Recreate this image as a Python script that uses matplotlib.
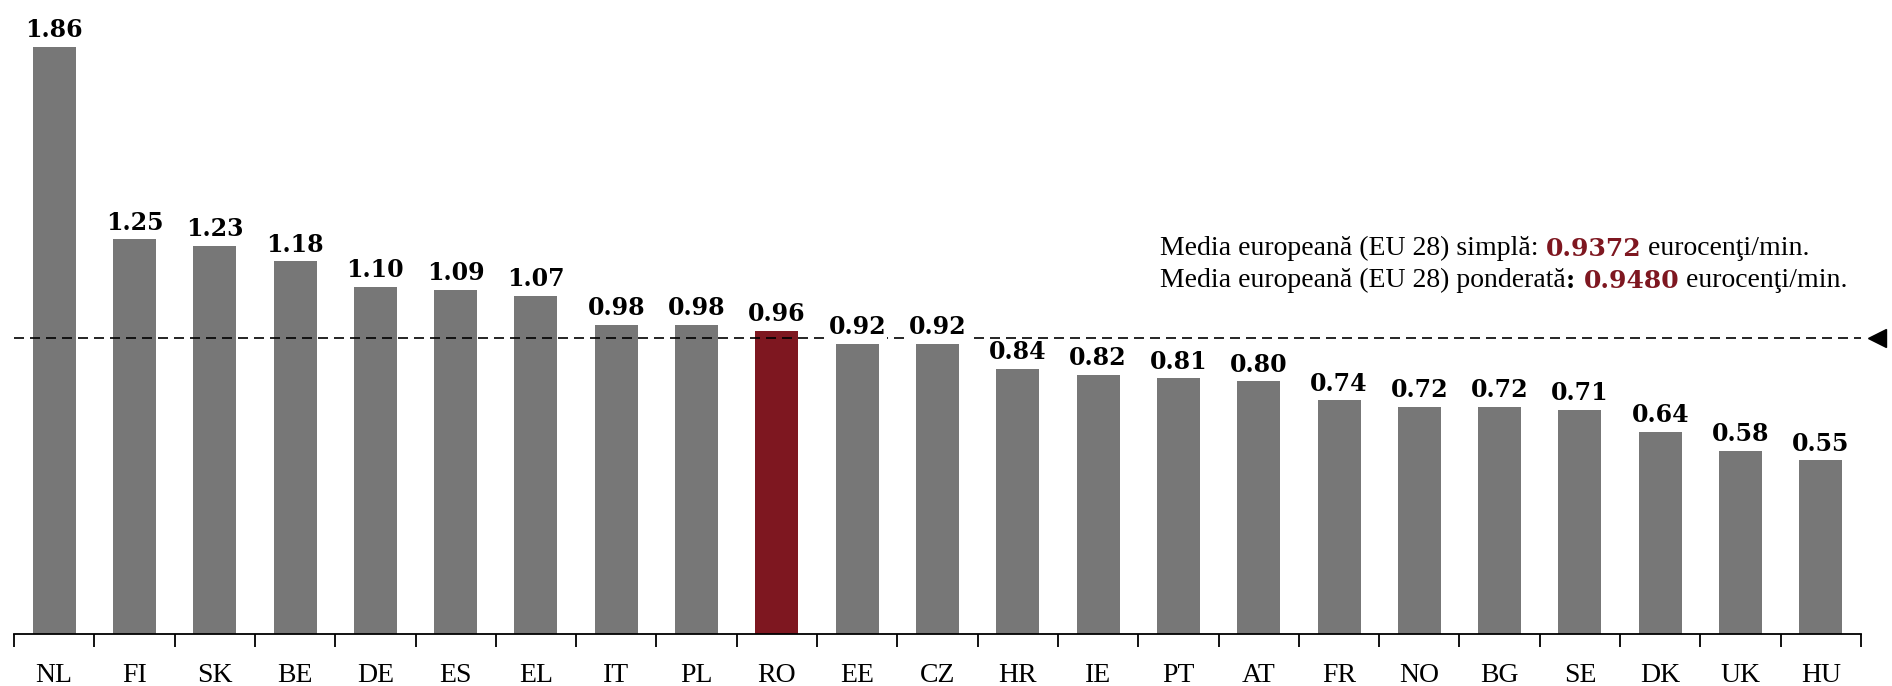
import matplotlib
matplotlib.use("Agg")
import matplotlib.pyplot as plt
from matplotlib.ticker import FixedLocator
import matplotlib.transforms as mtransforms

countries = ["NL", "FI", "SK", "BE", "DE", "ES", "EL", "IT", "PL", "RO", "EE", "CZ",
             "HR", "IE", "PT", "AT", "FR", "NO", "BG", "SE", "DK", "UK", "HU"]
values = [1.86, 1.25, 1.23, 1.18, 1.10, 1.09, 1.07, 0.98, 0.98, 0.96, 0.92, 0.92,
          0.84, 0.82, 0.81, 0.80, 0.74, 0.72, 0.72, 0.71, 0.64, 0.58, 0.55]
highlight = "RO"
eu_simple = 0.9372
eu_weighted = 0.9480

GRAY = "#777777"
RED = "#7e1720"
SERIF = ["Liberation Serif", "DejaVu Serif"]
BOLD = ["DejaVu Serif"]

fig = plt.figure(figsize=(18.92, 6.86), dpi=100)
ax = fig.add_axes([14 / 1892, 52 / 686, 1847 / 1892, 631.4 / 686])

x = list(range(len(countries)))
colors = [RED if c == highlight else GRAY for c in countries]
ax.bar(x, values, width=0.535, color=colors, zorder=2)

ax.axhline(eu_simple, color="black", lw=1.2, dashes=(6, 3.6), zorder=3)
trans = mtransforms.blended_transform_factory(ax.transAxes, ax.transData)
ax.plot([1.0087], [eu_simple], marker="<", markersize=13, color="black",
        transform=trans, clip_on=False, zorder=5)

for xi, v in zip(x, values):
    ax.annotate(f"{v:.2f}", xy=(xi, v), xytext=(0, 7), textcoords="offset points",
                ha="center", va="baseline", fontsize=17, fontweight="bold",
                family=BOLD, color="black", zorder=4,
                bbox=dict(facecolor="white", edgecolor="none", pad=1))

ax.set_xlim(-0.5, len(countries) - 0.5)
ax.set_ylim(0, 2.0)
for s in ["left", "right", "top"]:
    ax.spines[s].set_visible(False)
ax.spines["bottom"].set_linewidth(1.3)
ax.set_yticks([])
ax.set_xticks(x)
ax.set_xticklabels(countries, fontsize=20, family=SERIF)
ax.tick_params(axis="x", which="major", length=0, pad=21)
ax.xaxis.set_minor_locator(FixedLocator([i - 0.5 for i in range(len(countries) + 1)]))
ax.tick_params(axis="x", which="minor", length=9, width=1.3, direction="out")

REG_SIZE = 20
BOLD_SIZE = 18


def rich_line(fx, fy, parts):
    s0, b0, c0 = parts[0]
    prev = fig.text(fx, fy, s0, ha="left", va="bottom",
                    fontsize=BOLD_SIZE if b0 else REG_SIZE,
                    family=BOLD if b0 else SERIF,
                    fontweight="bold" if b0 else "normal", color=c0)
    for s, bold, col in parts[1:]:
        prev = ax.annotate(s, xy=(1, 0), xycoords=prev, ha="left", va="bottom",
                           fontsize=BOLD_SIZE if bold else REG_SIZE,
                           family=BOLD if bold else SERIF,
                           fontweight="bold" if bold else "normal", color=col,
                           annotation_clip=False)


rich_line(1160 / 1892, 1 - 261 / 686, [
    ("Media europeană (EU 28) simplă: ", False, "black"),
    (f"{eu_simple:.4f}", True, RED),
    (" eurocenţi/min.", False, "black"),
])
rich_line(1160 / 1892, 1 - 293 / 686, [
    ("Media europeană (EU 28) ponderată", False, "black"),
    (": ", True, "black"),
    (f"{eu_weighted:.4f}", True, RED),
    (" eurocenţi/min.", False, "black"),
])

fig.savefig("out.png", dpi=100)
